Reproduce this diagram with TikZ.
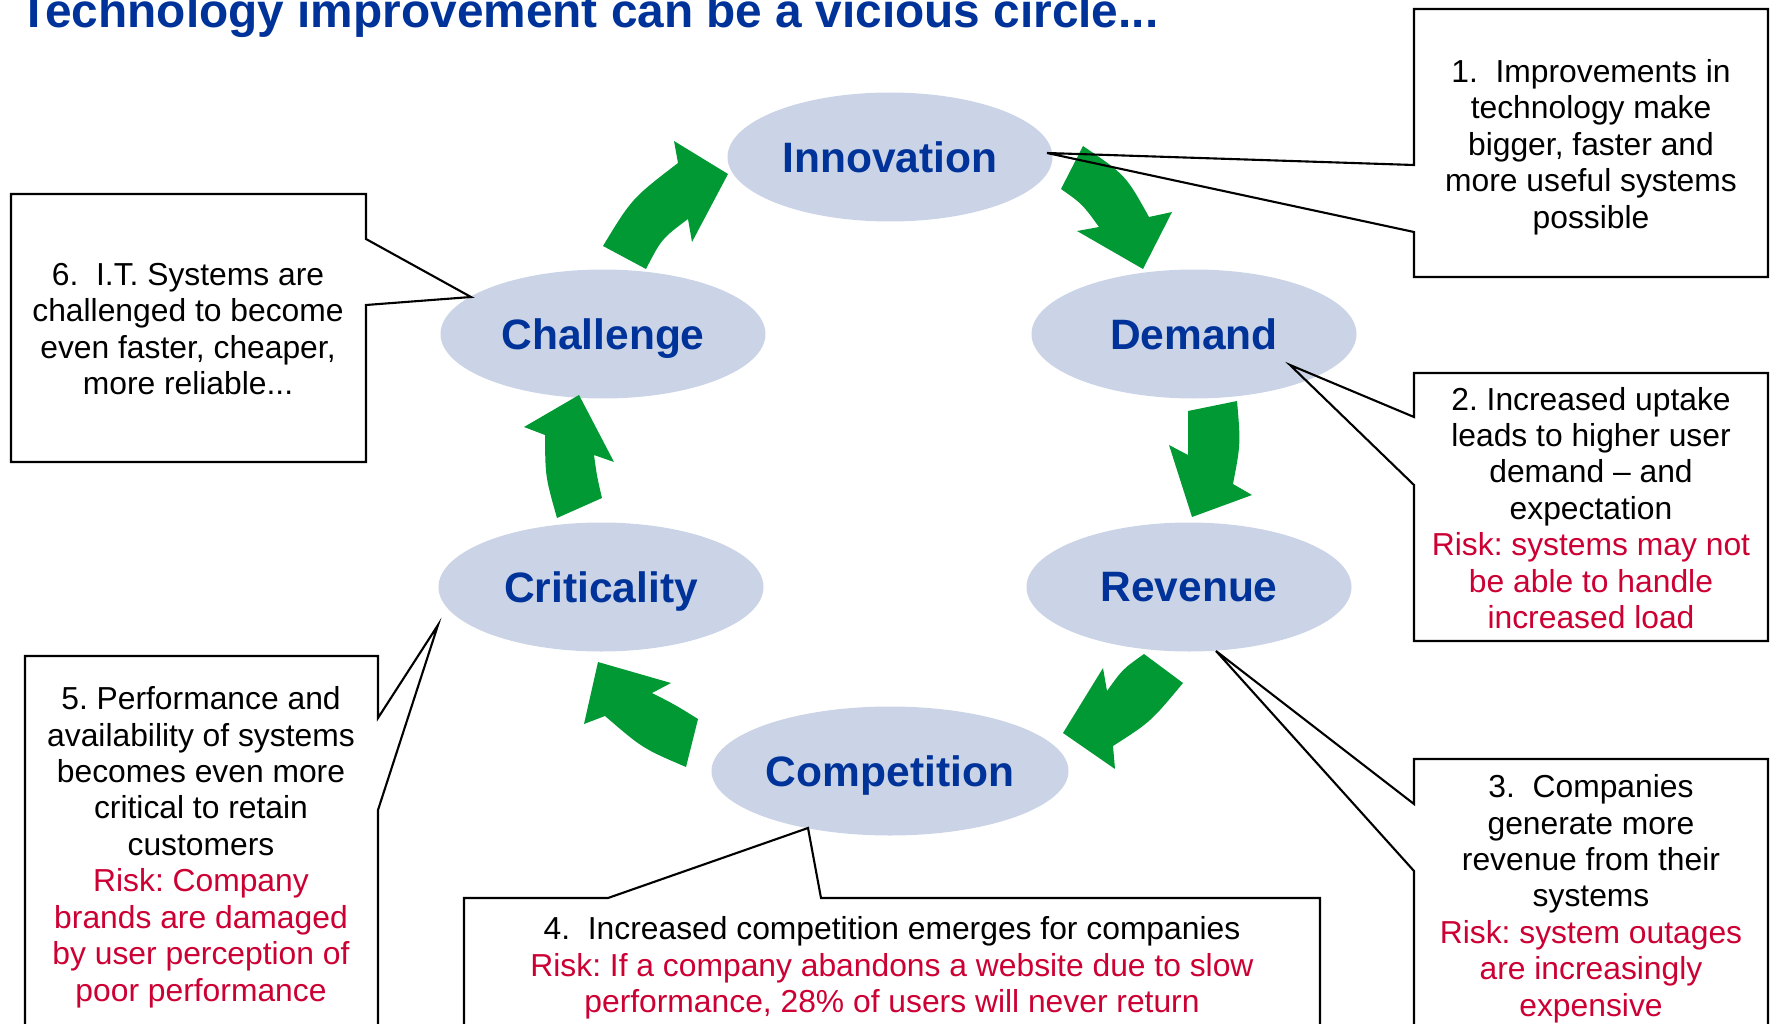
\documentclass[tikz,border=0pt]{standalone}
\usepackage{fontspec}
\setmainfont{Liberation Sans}
\usetikzlibrary{shapes.geometric,calc}
\definecolor{stagefill}{RGB}{203,212,230}
\definecolor{stageblue}{RGB}{0,51,153}
\definecolor{loopgreen}{RGB}{0,153,51}
\definecolor{riskred}{RGB}{204,0,51}
\frenchspacing

\begin{document}
\begin{tikzpicture}[x=0.1mm, y=-0.1mm,
  stage/.style={ellipse, fill=stagefill, inner sep=0pt, outer sep=0pt, minimum width=3.25cm, minimum height=1.29cm, text depth=0pt, text=stageblue, font=\fontsize{12.1}{14}\selectfont\bfseries},
  cyclearrow/.style={fill=loopgreen},
  calloutline/.style={draw, line width=0.6pt},
  notetext/.style={align=center, inner sep=0pt, font=\fontsize{9.05}{10.36}\selectfont}]
  \useasboundingbox (0,0) rectangle (1771,1024);
  \clip (0,0) rectangle (1771,1024);
  % Nodes
  \node[stage] (inno) at (890,157) {Innovation};
  \node[stage] (dema) at (1194,334) {Demand};
  \node[stage] (reve) at (1189,587) {Revenue};
  \node[stage, minimum width=3.57cm] (comp) at (890,771) {Competition};
  \node[stage] (crit) at (601,587) {Criticality};
  \node[stage] (chal) at (603,334) {Challenge};
  % Cycle arrows
  \fill[cyclearrow] (603,246) .. controls (631.8,198.5) .. (678,163) -- (674,141) -- (728,174) -- (692,242) -- (688,219) .. controls (661.7,238.7) .. (646,269) -- cycle;
  \fill[cyclearrow] (1083,146) .. controls (1125.7,175.1) .. (1149,217) -- (1172,212) -- (1143,269) -- (1077,231) -- (1099,227) .. controls (1082.3,204) .. (1061,189) -- cycle;
  \fill[cyclearrow] (1237,401) .. controls (1240.7,443.6) .. (1233,484) -- (1252,495) -- (1192,517) -- (1169,445) -- (1188,455) -- (1188,411) -- cycle;
  \fill[cyclearrow] (1183,683) .. controls (1150.7,721.8) .. (1113,746) -- (1115,769) -- (1063,733) -- (1103,668) -- (1107,691) .. controls (1122.6,669.2) .. (1144,654) -- cycle;
  \fill[cyclearrow] (686,767) .. controls (642.6,748.4) .. (605,716) -- (584,724) -- (598,662) -- (671,683) -- (652,693) .. controls (675,704.7) .. (698,719) -- cycle;
  \fill[cyclearrow] (557,518) .. controls (545.3,476.7) .. (545,435) -- (524,427) -- (579,395) -- (614,462) -- (594,455) .. controls (597,476.8) .. (602,498) -- cycle;
  % Callouts
  \coordinate (tip1) at (1047,153);
  \coordinate (tip2) at (1290,365);
  \coordinate (tip3) at (1216,651);
  \coordinate (tip4) at (808,828);
  \coordinate (tip5) at (438,625);
  \coordinate (tip6) at (471,297);
  \draw[calloutline] (1414,165) -- (tip1) -- (1414,232) -- (1414,277) -- (1768,277) -- (1768,9) -- (1414,9) -- cycle;
  \draw[calloutline] (1414,417) -- (tip2) -- (1414,485) -- (1414,641) -- (1768,641) -- (1768,373) -- (1414,373) -- cycle;
  \draw[calloutline] (1414,804) -- (tip3) -- (1414,871) -- (1414,1040) -- (1768,1040) -- (1768,759) -- (1414,759) -- cycle;
  \draw[calloutline] (608,898) -- (tip4) -- (821,898) -- (1320,898) -- (1320,1040) -- (464,1040) -- (464,898) -- cycle;
  \draw[calloutline] (378,718) -- (tip5) -- (378,810) -- (378,1040) -- (25,1040) -- (25,656) -- (378,656) -- cycle;
  \draw[calloutline] (366,239) -- (tip6) -- (366,305) -- (366,462) -- (11,462) -- (11,194) -- (366,194) -- cycle;
  % Texts
  \node[notetext] (note1) at (1591,147) {1.~ Improvements in\\technology make\\bigger, faster and\\more useful systems\\possible};
  \node[notetext] (note2) at (1591,508) {2. Increased uptake\\leads to higher user\\demand -- and\\expectation\\\color{riskred}Risk: systems may not\\\color{riskred}be able to handle\\\color{riskred}increased load};
  \node[notetext, anchor=north] (note3) at (1591,774) {3.~ Companies\\generate more\\revenue from their\\systems\\\color{riskred}Risk: system outages\\\color{riskred}are increasingly\\\color{riskred}expensive};
  \node[notetext, anchor=north] (note4) at (892,916) {4.~ Increased competition emerges for companies\\\color{riskred}Risk: If a company abandons a website due to slow\\\color{riskred}performance, 28\% of users will never return};
  \node[notetext, anchor=north] (note5) at (201,686) {5. Performance and\\availability of systems\\becomes even more\\critical to retain\\customers\\\color{riskred}Risk: Company\\\color{riskred}brands are damaged\\\color{riskred}by user perception of\\\color{riskred}poor performance};
  \node[notetext] (note6) at (188,329) {6.~ I.T. Systems are\\challenged to become\\even faster, cheaper,\\more reliable...};
  \node[anchor=base west, inner sep=0pt, text=stageblue, font=\fontsize{13.6}{16}\selectfont\bfseries] (title) at (19,28) {Technology improvement can be a vicious circle...};
\end{tikzpicture}
\end{document}
